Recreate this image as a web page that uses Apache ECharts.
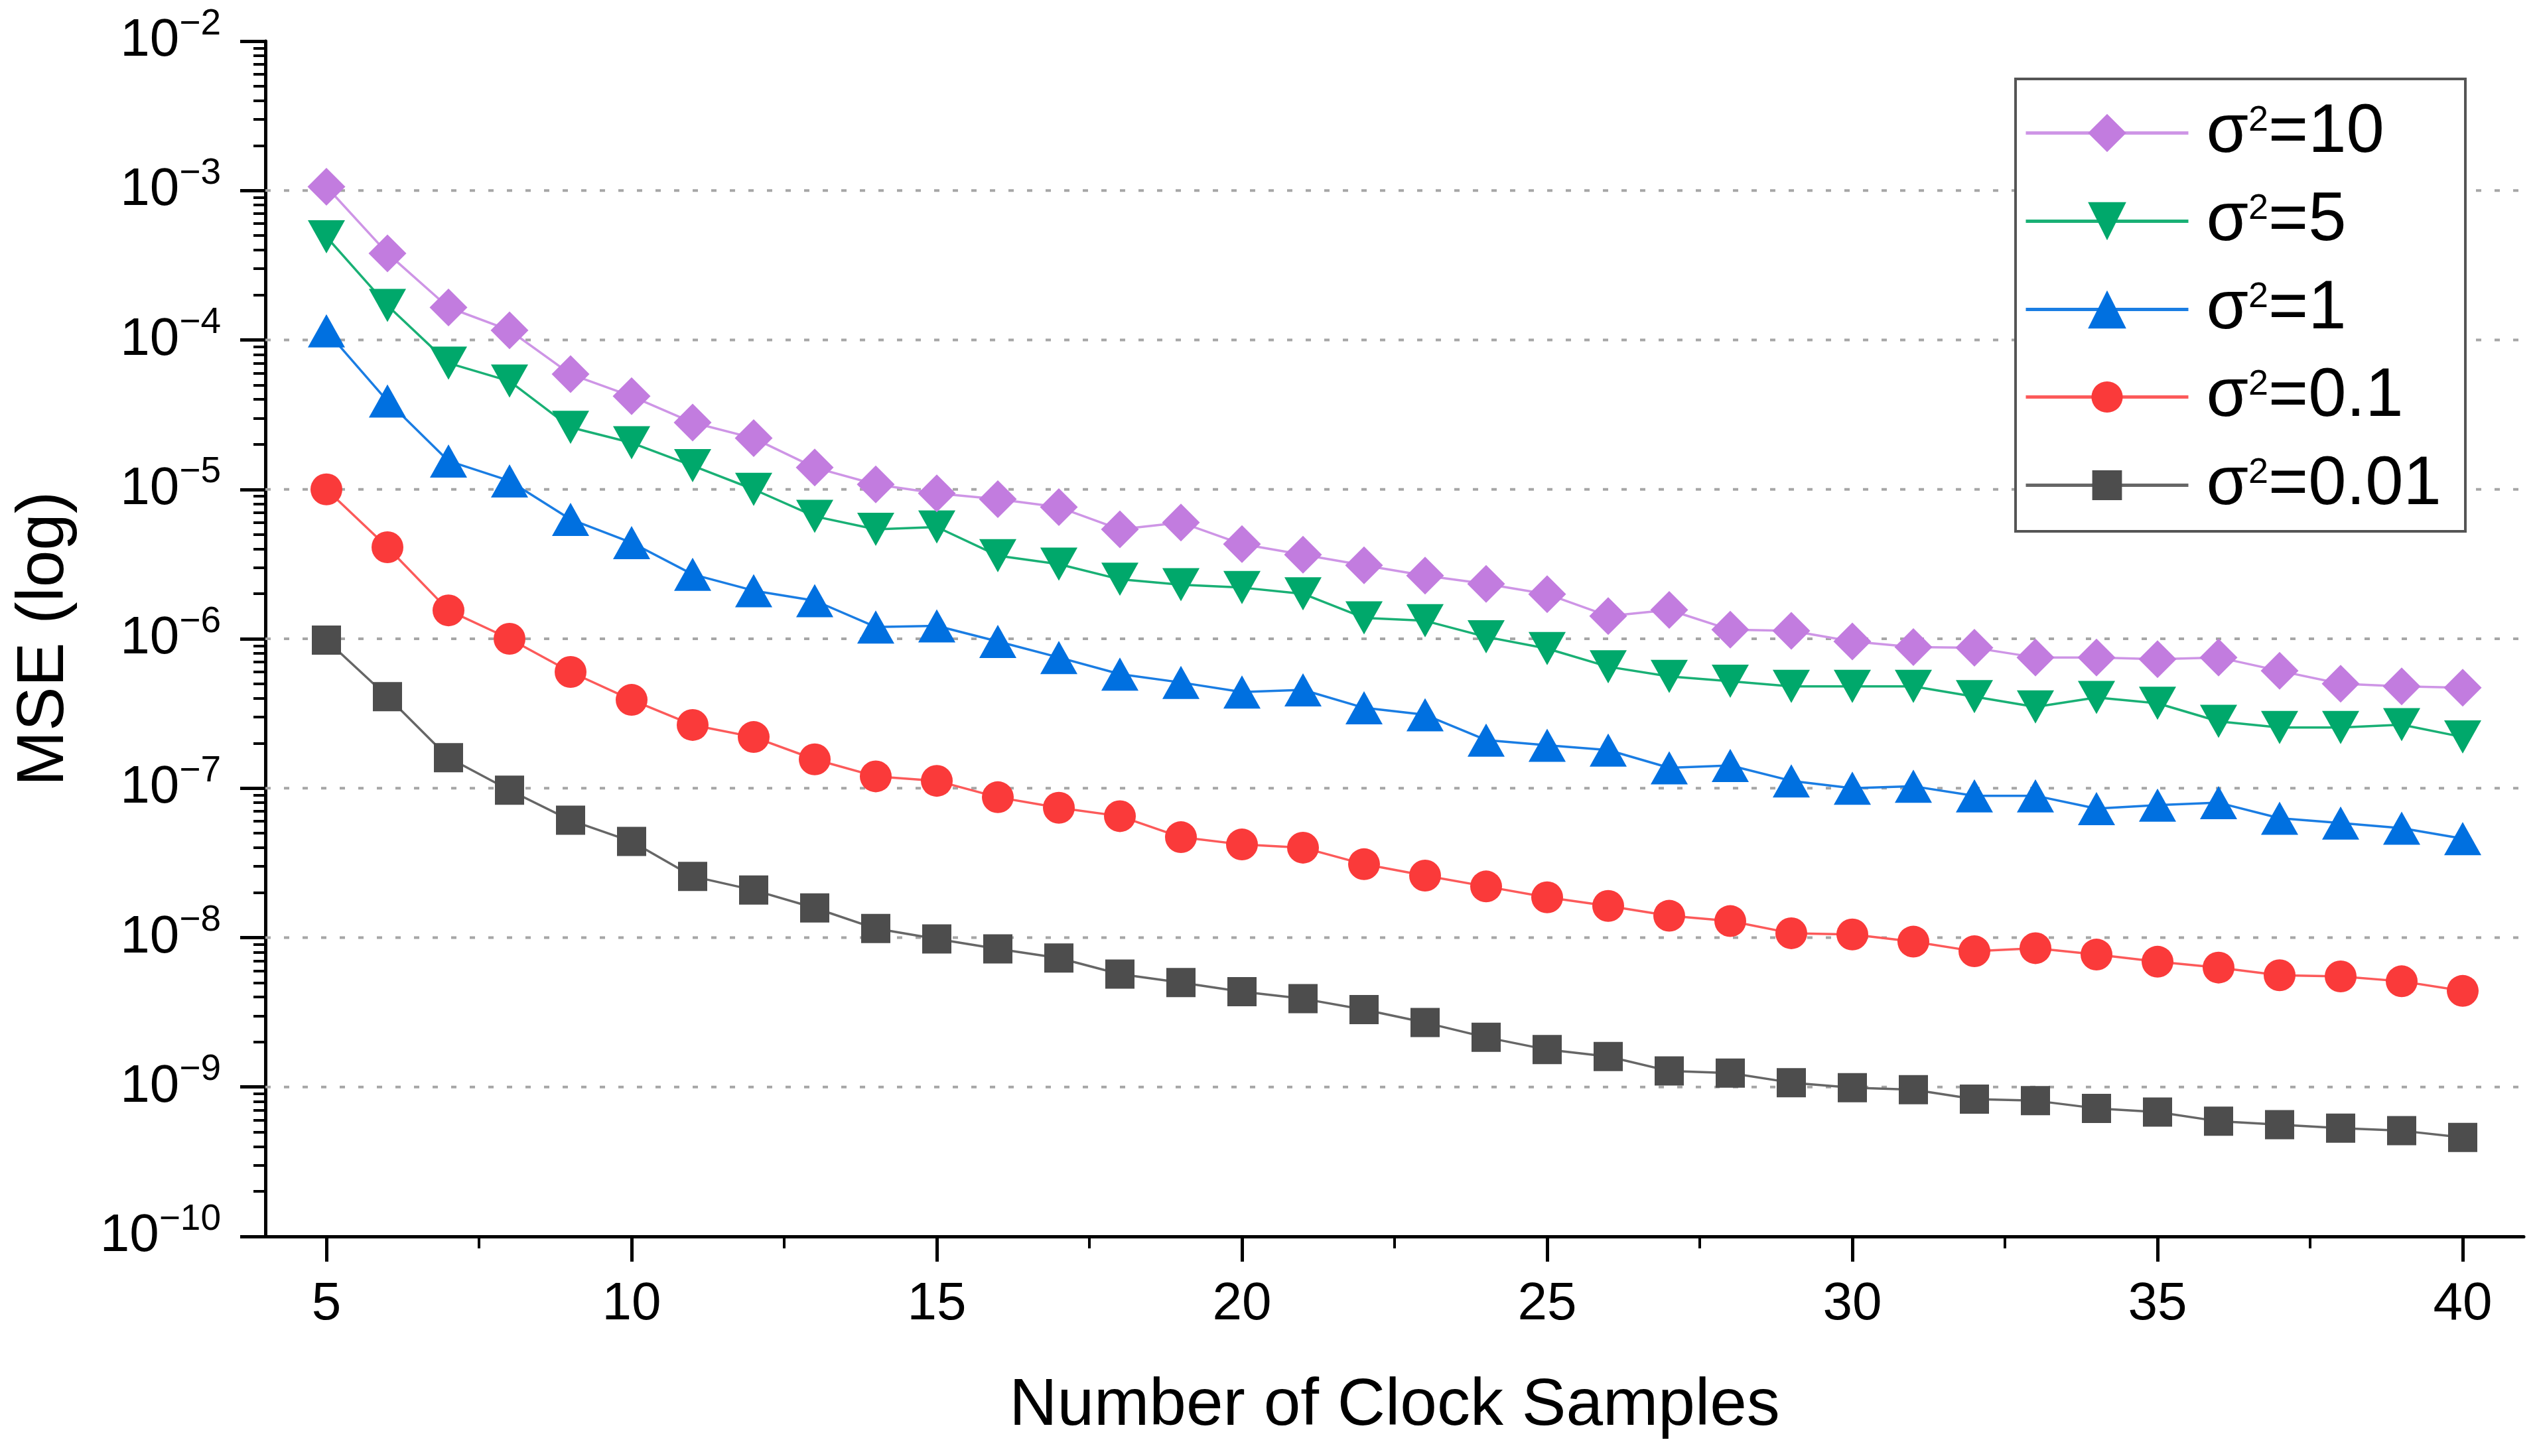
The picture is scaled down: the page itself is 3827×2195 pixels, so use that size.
<!DOCTYPE html>
<html>
<head>
<meta charset="utf-8">
<script src="https://cdn.jsdelivr.net/npm/echarts@6/dist/echarts.min.js"></script>
<style>
html,body{margin:0;padding:0;background:#fff;}
#chart{width:3827px;height:2195px;}
</style>
</head>
<body>
<div id="chart"></div>
<script>
const xSamples = [5,6,7,8,9,10,11,12,13,14,15,16,17,18,19,20,21,22,23,24,25,26,27,28,29,30,31,32,33,34,35,36,37,38,39,40];
const seriesNames = ['σ²=10','σ²=5','σ²=1','σ²=0.1','σ²=0.01'];
const mseS10 = [1.06e-3,3.8e-4,1.65e-4,1.16e-4,5.9e-5,4.2e-5,2.8e-5,2.2e-5,1.4e-5,1.08e-5,9.4e-6,8.6e-6,7.6e-6,5.4e-6,6.0e-6,4.3e-6,3.65e-6,3.1e-6,2.65e-6,2.33e-6,1.99e-6,1.42e-6,1.56e-6,1.15e-6,1.13e-6,9.6e-7,8.8e-7,8.7e-7,7.5e-7,7.5e-7,7.3e-7,7.5e-7,6.1e-7,5.0e-7,4.8e-7,4.7e-7];
const mseS5 = [4.9e-4,1.7e-4,7.0e-5,5.3e-5,2.6e-5,2.05e-5,1.44e-5,1.0e-5,6.6e-6,5.4e-6,5.6e-6,3.6e-6,3.16e-6,2.5e-6,2.3e-6,2.2e-6,2.0e-6,1.38e-6,1.32e-6,1.03e-6,8.6e-7,6.5e-7,5.6e-7,5.2e-7,4.8e-7,4.8e-7,4.8e-7,4.1e-7,3.5e-7,4.05e-7,3.7e-7,2.8e-7,2.55e-7,2.55e-7,2.66e-7,2.2e-7];
const mseS1 = [1.15e-4,3.9e-5,1.55e-5,1.14e-5,6.3e-6,4.4e-6,2.7e-6,2.1e-6,1.8e-6,1.2e-6,1.22e-6,9.6e-7,7.5e-7,5.8e-7,5.1e-7,4.4e-7,4.55e-7,3.45e-7,3.1e-7,2.1e-7,1.94e-7,1.8e-7,1.37e-7,1.42e-7,1.12e-7,1.0e-7,1.03e-7,8.9e-8,8.9e-8,7.3e-8,7.7e-8,8.0e-8,6.3e-8,5.85e-8,5.4e-8,4.6e-8];
const mseS01 = [1.0e-5,4.1e-6,1.55e-6,1.0e-6,6.0e-7,3.9e-7,2.65e-7,2.2e-7,1.56e-7,1.2e-7,1.12e-7,8.7e-8,7.4e-8,6.5e-8,4.7e-8,4.2e-8,4.0e-8,3.1e-8,2.6e-8,2.2e-8,1.86e-8,1.63e-8,1.4e-8,1.29e-8,1.07e-8,1.05e-8,9.4e-9,8.1e-9,8.5e-9,7.7e-9,6.9e-9,6.3e-9,5.6e-9,5.5e-9,5.1e-9,4.4e-9];
const mseS001 = [9.8e-7,4.1e-7,1.6e-7,9.7e-8,6.1e-8,4.4e-8,2.57e-8,2.08e-8,1.58e-8,1.15e-8,9.8e-9,8.4e-9,7.3e-9,5.7e-9,5.0e-9,4.35e-9,3.9e-9,3.3e-9,2.7e-9,2.15e-9,1.78e-9,1.6e-9,1.28e-9,1.24e-9,1.07e-9,9.9e-10,9.6e-10,8.3e-10,8.1e-10,7.2e-10,6.8e-10,5.9e-10,5.6e-10,5.3e-10,5.1e-10,4.6e-10];
const xTickValues = [5,10,15,20,25,30,35,40];
const xMinorTickValues = [7.5,12.5,17.5,22.5,27.5,32.5,37.5];
const xRange = [4, 41];
const yExponents = [-10,-9,-8,-7,-6,-5,-4,-3,-2];
const yGridValues = [1e-9,1e-8,1e-7,1e-6,1e-5,1e-4,1e-3];

const FONT = "'Liberation Sans', Arial, sans-serif";
const yMinorTickValues = [];
for (let e = -10; e < -2; e++) {
  for (let m = 2; m <= 9; m++) yMinorTickValues.push(m * Math.pow(10, e));
}
const pair = vals => xSamples.map((x, i) => [x, vals[i]]);
const allValues = [mseS10, mseS5, mseS1, mseS01, mseS001];

const styles = [
  {marker:'#C27CDF', line:'#CE95E6', symbol:'diamond', size:[57,57], legendH:72},
  {marker:'#00A86B', line:'#19B075', symbol:'triangle', rotate:180, size:[56,50], legendH:72},
  {marker:'#0070E0', line:'#1A7DE3', symbol:'triangle', size:[56,50], legendH:72},
  {marker:'#FA3A3A', line:'#FC5A5A', symbol:'circle', size:[48,48], legendH:59},
  {marker:'#4D4D4D', line:'#666666', symbol:'rect', size:[44,44], legendH:56}
];

// dotted decade grid lines, drawn as horizontal lines through the axis scales
const series = yGridValues.map(v => ({
  name: 'grid' + v,
  type: 'line',
  data: xRange.map(x => [x, v]),
  symbol: 'none',
  silent: true,
  animation: false,
  z: 1,
  lineStyle: {color: '#A6A6A6', width: 4, type: [8, 20]},
  emphasis: {disabled: true}
}));

allValues.forEach((vals, i) => series.push({
  name: seriesNames[i],
  type: 'line',
  data: pair(vals),
  symbol: styles[i].symbol,
  symbolRotate: styles[i].rotate || 0,
  symbolSize: styles[i].size,
  showAllSymbol: true,
  animation: false,
  lineStyle: {color: styles[i].line, width: 3.5},
  itemStyle: {color: styles[i].marker, borderWidth: 0},
  z: 2 + (4 - i)
}));

const legendCenters = [194, 327, 460, 592, 725];
const legends = seriesNames.map((name, i) => ({
  data: [name],
  left: 3051,
  top: legendCenters[i] - 45,
  orient: 'vertical',
  padding: 0,
  itemGap: 0,
  itemWidth: 245,
  itemHeight: styles[i].legendH,
  selectedMode: false,
  z: 10,
  lineStyle: {width: 5},
  formatter: n => n.replace('²', '{s|2}'),
  textStyle: {
    fontSize: 103, lineHeight: 90, fontFamily: FONT, color: '#000', padding: [0, 0, 0, 22],
    rich: {
      s: {fontSize: 54, lineHeight: 54, verticalAlign: 'top', fontFamily: FONT, color: '#000'}
    }
  }
}));

const option = {
  backgroundColor: '#fff',
  animation: false,
  grid: {left: 400, right: 23, top: 62, bottom: 331, containLabel: false},
  legend: legends,
  graphic: [{
    type: 'rect', z: 5,
    shape: {x: 3038, y: 119, width: 678, height: 682},
    style: {fill: '#fff', stroke: '#555', lineWidth: 4}
  }],
  xAxis: [{
    type: 'value', min: xRange[0], max: xRange[1],
    name: 'Number of Clock Samples', nameLocation: 'middle', nameGap: 206,
    nameTextStyle: {fontSize: 100, fontFamily: FONT, color: '#000'},
    axisLine: {show: true, onZero: false, lineStyle: {color: '#000', width: 5}},
    axisTick: {show: true, length: 38, customValues: xTickValues, lineStyle: {color: '#000', width: 5}},
    axisLabel: {show: true, customValues: xTickValues, margin: 63, fontSize: 80, fontFamily: FONT, color: '#000'},
    splitLine: {show: false}
  }, {
    type: 'value', min: xRange[0], max: xRange[1], position: 'bottom',
    axisLine: {show: false},
    axisTick: {show: true, length: 18, customValues: xMinorTickValues, lineStyle: {color: '#000', width: 4}},
    axisLabel: {show: false},
    splitLine: {show: false}
  }],
  yAxis: [{
    type: 'log', logBase: 10, min: 1e-10, max: 1e-2, interval: 1, splitNumber: 8,
    name: 'MSE (log)', nameLocation: 'middle', nameGap: 283,
    nameTextStyle: {fontSize: 100, fontFamily: FONT, color: '#000'},
    axisLine: {show: true, onZero: false, lineStyle: {color: '#000', width: 5}},
    axisTick: {show: true, length: 38, lineStyle: {color: '#000', width: 5}},
    axisLabel: {
      show: true, margin: 67,
      formatter: v => {
        const e = Math.round(Math.log10(v));
        return yExponents.indexOf(e) >= 0 ? '{b|10}{s|\u2212' + Math.abs(e) + '}' : '';
      },
      rich: {
        b: {fontSize: 80, lineHeight: 106, fontFamily: FONT, color: '#000'},
        s: {fontSize: 55, lineHeight: 55, verticalAlign: 'top', fontFamily: FONT, color: '#000'}
      }
    },
    splitLine: {show: false}
  }, {
    type: 'log', logBase: 10, min: 1e-10, max: 1e-2, position: 'left',
    axisLine: {show: false},
    axisTick: {show: true, length: 18, customValues: yMinorTickValues, lineStyle: {color: '#000', width: 4}},
    axisLabel: {show: false},
    splitLine: {show: false}
  }],
  series: series
};

const chart = echarts.init(document.getElementById('chart'), null, {renderer: 'canvas'});
chart.setOption(option);
</script>
</body>
</html>
